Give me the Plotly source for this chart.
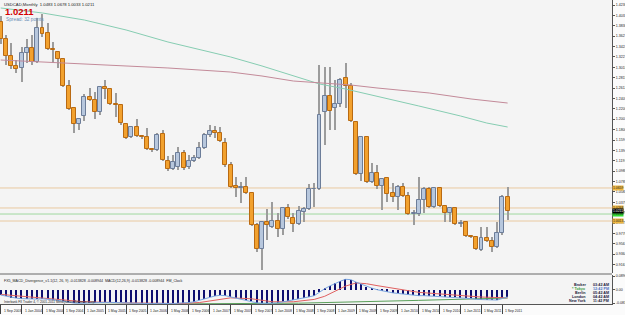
import plotly.graph_objects as go

# ---------------- data ----------------
tick_labels = ["1 Sep 2003", "1 Jan 2004", "1 May 2004", "1 Sep 2004", "1 Jan 2005",
               "1 May 2005", "1 Sep 2005", "1 Jan 2006", "1 May 2006", "1 Sep 2006",
               "1 Jan 2007", "1 May 2007", "1 Sep 2007", "1 Jan 2008", "1 May 2008",
               "1 Sep 2008", "1 Jan 2009", "1 May 2009", "1 Sep 2009", "1 Jan 2010",
               "1 May 2010", "1 Sep 2010", "1 Jan 2011", "1 May 2011", "1 Sep 2011"]

opens = [1.3904, 1.3572, 1.3239, 1.3044, 1.3005, 1.3298, 1.3396, 1.3122, 1.3787, 1.3689,
         1.3376, 1.3317, 1.3181, 1.2653, 1.2223, 1.1910, 1.2066, 1.2438, 1.2379, 1.2144,
         1.2633, 1.2594, 1.2301, 1.2281, 1.1910, 1.1656, 1.1851, 1.1675, 1.1656, 1.1421,
         1.1402, 1.1714, 1.1186, 1.1030, 1.1069, 1.1343, 1.1069, 1.1186, 1.1245, 1.1441,
         1.1695, 1.1773, 1.1734, 1.1538, 1.1108, 1.0698, 1.0659, 1.0678, 1.0561, 0.9935,
         0.9466, 0.9994, 0.9896, 1.0013, 0.9857, 1.0268, 1.0072, 0.9955, 1.0189, 1.0248,
         1.0639, 1.0639, 1.2144, 1.2457, 1.2223, 1.2301, 1.2809, 1.2653, 1.1949, 1.0932,
         1.1656, 1.0776, 1.0952, 1.0698, 1.0854, 1.0561, 1.0483, 1.0678, 1.0502, 1.0150,
         1.0150, 1.0424, 1.0639, 1.0287, 1.0659, 1.0307, 1.0170, 1.0268, 0.9955, 0.9994,
         0.9720, 0.9701, 0.9447, 0.9681, 0.9622, 0.9505, 0.9779, 1.0483]
highs = [1.4021, 1.3650, 1.3493, 1.3161, 1.3415, 1.3572, 1.3650, 1.3982, 1.4060, 1.3884,
         1.3513, 1.3337, 1.3200, 1.2770, 1.2223, 1.2027, 1.2496, 1.2614, 1.2535, 1.2653,
         1.2770, 1.2614, 1.2516, 1.2281, 1.1929, 1.1871, 1.2008, 1.1695, 1.1832, 1.1441,
         1.1734, 1.1793, 1.1284, 1.1304, 1.1460, 1.1402, 1.1304, 1.1304, 1.1558, 1.1734,
         1.1890, 1.1871, 1.1851, 1.1636, 1.1167, 1.0874, 1.0776, 1.0874, 1.0580, 0.9974,
         1.0013, 1.0248, 1.0385, 1.0170, 1.0287, 1.0346, 1.0170, 1.0307, 1.0287, 1.0737,
         1.0756, 1.3063, 1.3024, 1.3024, 1.2770, 1.2809, 1.3102, 1.2711, 1.1968, 1.1675,
         1.1675, 1.1147, 1.1108, 1.0854, 1.0874, 1.0756, 1.0717, 1.0756, 1.0580, 1.0229,
         1.0874, 1.0678, 1.0678, 1.0678, 1.0678, 1.0326, 1.0287, 1.0287, 1.0033, 1.0013,
         0.9740, 0.9720, 0.9896, 0.9896, 0.9701, 0.9994, 1.0522, 1.0678]
lows = [1.3474, 1.3063, 1.2985, 1.2907, 1.2731, 1.3102, 1.3063, 1.3102, 1.3611, 1.3357,
        1.3102, 1.3005, 1.2633, 1.2184, 1.1734, 1.1793, 1.1968, 1.2359, 1.2008, 1.2086,
        1.2399, 1.2281, 1.2047, 1.1890, 1.1617, 1.1636, 1.1656, 1.1617, 1.1402, 1.1362,
        1.1382, 1.1186, 1.0991, 1.1011, 1.1011, 1.1011, 1.1030, 1.1167, 1.1226, 1.1421,
        1.1656, 1.1636, 1.1558, 1.1069, 1.0659, 1.0483, 1.0365, 1.0541, 0.9916, 0.9407,
        0.9056, 0.9642, 0.9877, 0.9701, 0.9740, 1.0053, 0.9798, 0.9935, 0.9994, 1.0229,
        1.0287, 1.0620, 1.1499, 1.1793, 1.1793, 1.2242, 1.2223, 1.1949, 1.0913, 1.0795,
        1.0756, 1.0756, 1.0639, 1.0229, 1.0385, 1.0385, 1.0229, 1.0483, 1.0131, 0.9935,
        1.0111, 1.0170, 1.0268, 1.0268, 1.0287, 0.9994, 0.9994, 0.9935, 0.9896, 0.9701,
        0.9681, 0.9447, 0.9427, 0.9603, 0.9407, 0.9486, 0.9740, 1.0033]
closes = [1.3572, 1.3239, 1.3044, 1.2985, 1.3298, 1.3396, 1.3122, 1.3787, 1.3669, 1.3376,
          1.3357, 1.3181, 1.2653, 1.2203, 1.1910, 1.2008, 1.2438, 1.2379, 1.2144, 1.2633,
          1.2594, 1.2301, 1.2281, 1.1929, 1.1636, 1.1851, 1.1675, 1.1656, 1.1421, 1.1402,
          1.1695, 1.1206, 1.1030, 1.1167, 1.1343, 1.1050, 1.1186, 1.1245, 1.1441, 1.1695,
          1.1773, 1.1734, 1.1577, 1.1108, 1.0678, 1.0659, 1.0678, 1.0561, 0.9935, 0.9466,
          0.9994, 0.9935, 1.0013, 0.9857, 1.0268, 1.0092, 0.9955, 1.0209, 1.0248, 1.0639,
          1.0645, 1.2086, 1.2457, 1.2164, 1.2301, 1.2770, 1.2653, 1.1968, 1.0932, 1.1656,
          1.0776, 1.0952, 1.0698, 1.0835, 1.0541, 1.0483, 1.0678, 1.0502, 1.0150, 1.0170,
          1.0424, 1.0639, 1.0287, 1.0659, 1.0307, 1.0170, 1.0268, 0.9955, 0.9974, 0.9720,
          0.9701, 0.9466, 0.9681, 0.9622, 0.9505, 0.9779, 1.0483, 1.0211]

# long moving averages (bar index, value)
ma_teal_bar = [0, 8, 16, 24, 32, 40, 44, 50, 56, 61, 66, 72, 80, 88, 93, 97]
ma_teal_val = [1.4178, 1.4080, 1.3943, 1.3748, 1.3513, 1.3317, 1.3220, 1.3044, 1.2848,
               1.2692, 1.2594, 1.2457, 1.2262, 1.2066, 1.1929, 1.1851]
ma_red_bar = [0, 16, 32, 44, 50, 56, 61, 67, 72, 82, 90, 97]
ma_red_val = [1.3161, 1.3083, 1.3005, 1.2926, 1.2848, 1.2750, 1.2711, 1.2672, 1.2614,
              1.2516, 1.2399, 1.2320]

# horizontal levels
level_val = [1.0659, 1.0268, 1.0150, 1.0013]
level_col = ["#e9c9a0", "#e9c9a0", "#9fd89f", "#e9c9a0"]
level_tag = ["#f0b840", "#f0b840", "#33dd33", "#f0b840"]

# MACD pane
macd = [-0.032, -0.040, -0.048, -0.052, -0.055, -0.057, -0.060, -0.058, -0.056, -0.058,
        -0.062, -0.066, -0.072, -0.078, -0.083, -0.085, -0.083, -0.082, -0.082, -0.080,
        -0.079, -0.079, -0.080, -0.082, -0.085, -0.085, -0.085, -0.085, -0.086, -0.087,
        -0.085, -0.086, -0.088, -0.087, -0.084, -0.084, -0.080, -0.075, -0.066, -0.056,
        -0.046, -0.038, -0.034, -0.036, -0.044, -0.052, -0.058, -0.064, -0.072, -0.082,
        -0.085, -0.086, -0.084, -0.082, -0.076, -0.070, -0.066, -0.060, -0.054, -0.044,
        -0.036, -0.012, 0.008, 0.026, 0.042, 0.056, 0.068, 0.066, 0.050, 0.036,
        0.022, 0.012, 0.002, -0.006, -0.012, -0.018, -0.022, -0.026, -0.030, -0.034,
        -0.036, -0.036, -0.038, -0.038, -0.040, -0.042, -0.043, -0.046, -0.048, -0.052,
        -0.055, -0.060, -0.062, -0.064, -0.066, -0.064, -0.054, -0.044]
signal_bar = [0, 8, 16, 24, 34, 38, 42, 44, 48, 52, 56, 60, 62, 64, 66, 68, 70, 72, 76, 80, 86, 92, 97]
signal_val = [-0.028, -0.052, -0.075, -0.082, -0.086, -0.080, -0.060, -0.050, -0.056, -0.075,
              -0.075, -0.060, -0.040, -0.010, 0.025, 0.045, 0.040, 0.028, 0.005, -0.015,
              -0.030, -0.045, -0.050]
slow_bar = [0, 40, 57, 80, 97]
slow_val = [-0.095, -0.090, -0.084, -0.066, -0.051]

clock_names = ["Broker", "* Tokyo", "Berlin", "London", "New York"]
clock_times = ["03:42 AM", "12:42 PM", "05:42 AM", "04:42 AM", "11:42 PM"]
spread_text = "Spread: 32 points"
indicator_text = "FX5_MACD_Divergence_v1.1(12, 26, 9) -0.013828 -0.008944  MACD(12,26,9) -0.013828 -0.008944  FM_Clock"
footer_text = "Interbank FX Trader 4, \u00a9 2001-2011 MetaQuotes Software Corp."

# ---------------- geometry ----------------
W, H = 625, 315
MR, MB = 13, 11
PW, PH = W - MR, H - MB          # plot area in pixels
MAIN_BOTTOM, SUB_TOP = 273, 275
X0, STEP = 0.7, 5.226            # pixel of first bar, bar spacing


def py(p):
    return 1 - p / PH


def px(p):
    return p / PW


xs = list(range(len(opens)))
BULL_FILL, BULL_EDGE = "#b7c7dd", "#6c7d99"
BEAR_FILL, BEAR_EDGE = "#f2a12e", "#b96a12"
WICK = "#9c9c9c"
FONT = "Liberation Sans, Arial, sans-serif"

fig = go.Figure()

# wicks
fig.add_trace(go.Bar(x=xs, y=[h - l for h, l in zip(highs, lows)], base=lows, width=0.2,
                     marker=dict(color=WICK, line=dict(width=0)), yaxis="y", xaxis="x"))
# bodies
bull = [c >= o for o, c in zip(opens, closes)]
fig.add_trace(go.Bar(x=xs, y=[abs(c - o) for o, c in zip(opens, closes)],
                     base=[min(o, c) for o, c in zip(opens, closes)], width=0.76,
                     marker=dict(color=[BULL_FILL if b else BEAR_FILL for b in bull],
                                 line=dict(color=[BULL_EDGE if b else BEAR_EDGE for b in bull], width=1)),
                     yaxis="y", xaxis="x"))
# moving averages
fig.add_trace(go.Scatter(x=ma_teal_bar, y=ma_teal_val, mode="lines",
                         line=dict(color="#86cdb2", width=1), yaxis="y"))
fig.add_trace(go.Scatter(x=ma_red_bar, y=ma_red_val, mode="lines",
                         line=dict(color="#c38a99", width=1), yaxis="y"))

# MACD pane
fig.add_trace(go.Bar(x=xs, y=macd, width=0.25, marker=dict(color="#101070", line=dict(width=0)),
                     yaxis="y2", xaxis="x"))
fig.add_trace(go.Scatter(x=slow_bar, y=slow_val, mode="lines", line=dict(color="#5aa05a", width=1), yaxis="y2"))
fig.add_trace(go.Scatter(x=signal_bar, y=signal_val, mode="lines", line=dict(color="#e06060", width=1), yaxis="y2"))
fig.add_trace(go.Scatter(x=xs, y=macd, mode="lines", line=dict(color="#7aa6e0", width=1), yaxis="y2"))

shapes = []
for v, c in zip(level_val, level_col):
    shapes.append(dict(type="line", xref="paper", x0=0, x1=1, yref="y", y0=v, y1=v,
                       line=dict(color=c, width=1), layer="below"))
# pane separator
sep = (MAIN_BOTTOM + SUB_TOP) / 2
shapes.append(dict(type="line", xref="paper", x0=0, x1=1, yref="paper", y0=py(sep), y1=py(sep),
                   line=dict(color="#606060", width=1)))

ann = []
# date labels (left-aligned after each tick, MT4 style)
for k, lab in enumerate(tick_labels):
    ann.append(dict(x=4 * k, xref="x", y=py(310.5), yref="paper", text=lab, showarrow=False,
                    xanchor="left", yanchor="middle", xshift=1,
                    font=dict(size=3.4, color="#222", family=FONT)))
# level tags on the price axis
for v, c in zip(level_val, level_tag):
    ann.append(dict(x=1, xref="paper", y=v, yref="y", text=f"{v:.4f}", showarrow=False,
                    xanchor="left", yanchor="middle", bgcolor=c, borderpad=0,
                    font=dict(size=3.4, color="#222", family=FONT)))
ann.append(dict(x=1, xref="paper", y=closes[-1], yref="y", text=f"{closes[-1]:.4f}", showarrow=False,
                xanchor="left", yanchor="middle", bgcolor="#000000", borderpad=0,
                font=dict(size=3.4, color="#ffffff", family=FONT)))
# header texts
ann.append(dict(x=px(2), xref="paper", y=py(4), yref="paper",
                text=f"USDCAD,Monthly  {opens[-1]:.4f} {highs[-1]:.4f} {lows[-1]:.4f} {closes[-1]:.4f}",
                showarrow=False, xanchor="left", yanchor="middle",
                font=dict(size=4.2, color="#222", family=FONT)))
ann.append(dict(x=px(3), xref="paper", y=py(11.5), yref="paper", text=f"<b>{closes[-1]:.4f}</b>",
                showarrow=False, xanchor="left", yanchor="middle",
                font=dict(size=9.5, color="#d40000", family=FONT)))
ann.append(dict(x=px(4), xref="paper", y=py(19.5), yref="paper", text=spread_text,
                showarrow=False, xanchor="left", yanchor="middle",
                font=dict(size=4.8, color="#6b8fb5", family=FONT)))
ann.append(dict(x=px(2), xref="paper", y=py(281), yref="paper", text=indicator_text,
                showarrow=False, xanchor="left", yanchor="middle",
                font=dict(size=3.6, color="#222", family=FONT)))
ann.append(dict(x=px(2), xref="paper", y=py(301.5), yref="paper", text=footer_text,
                showarrow=False, xanchor="left", yanchor="middle",
                font=dict(size=3.2, color="#222", family=FONT)))
# clocks
for k, (n, t) in enumerate(zip(clock_names, clock_times)):
    col = "#3a9a3a" if "Tokyo" in n else "#1a1a3a"
    tcol = "#4a6fc0" if "Tokyo" in n else "#1a1a3a"
    yy = py(284.5 + 4.2 * k)
    ann.append(dict(x=px(588), xref="paper", y=yy, yref="paper", text=f"<b>{n}</b>", showarrow=False,
                    xanchor="right", yanchor="middle", font=dict(size=3.7, color=col, family=FONT)))
    ann.append(dict(x=px(591), xref="paper", y=yy, yref="paper", text=f"<b>{t}</b>", showarrow=False,
                    xanchor="left", yanchor="middle", font=dict(size=3.7, color=tcol, family=FONT)))

main_lo = 1.4334 - 0.001955 * MAIN_BOTTOM
sub_hi, sub_lo = 0.0955, -0.0892

fig.update_layout(
    width=W, height=H,
    margin=dict(l=0, r=MR, t=0, b=MB, pad=0, autoexpand=False),
    paper_bgcolor="#fbfbfb", plot_bgcolor="#f4f4f4",
    barmode="overlay", bargap=0, showlegend=False, hovermode=False,
    shapes=shapes, annotations=ann,
    xaxis=dict(range=[(0 - X0) / STEP, (PW - X0) / STEP], anchor="y2", showgrid=False, zeroline=False,
               automargin=False,
               tickvals=[4 * k for k in range(len(tick_labels))], showticklabels=False,
               ticks="outside", ticklen=9, tickcolor="#444", tickwidth=1,
               showline=True, linecolor="#555", linewidth=1),
    yaxis=dict(domain=[py(MAIN_BOTTOM), 1], range=[main_lo, 1.4334], side="right", anchor="x",
               automargin=False,
               showgrid=False, zeroline=False, showline=True, linecolor="#555", linewidth=1,
               ticks="outside", ticklen=2, tickcolor="#555", tick0=1.4236, dtick=0.0203,
               tickformat=".4f", tickfont=dict(size=3.6, color="#222", family=FONT)),
    yaxis2=dict(domain=[0, py(SUB_TOP)], range=[sub_lo, sub_hi], side="right", anchor="x",
                automargin=False,
                showgrid=False, zeroline=False, showline=True, linecolor="#555", linewidth=1,
                ticks="outside", ticklen=2, tickcolor="#555",
                tickvals=[0.0890, 0.0, -0.0830], ticktext=["0.0890", "0.00", "-0.0830"],
                tickfont=dict(size=3.6, color="#222", family=FONT)),
)

fig.write_html("out.html")
